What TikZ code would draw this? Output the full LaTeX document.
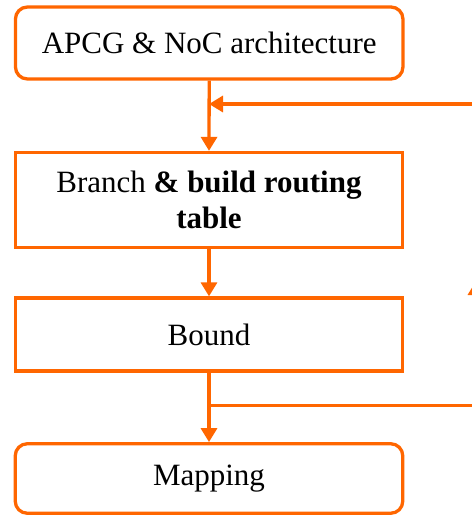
\documentclass[tikz,border=0pt]{standalone}
\usepackage{fontspec}
\setmainfont{Liberation Serif}[BoldFont={Liberation Serif Bold}]
\usetikzlibrary{arrows.meta}
\definecolor{flow}{RGB}{255,102,0}
\tikzset{
  box/.style={draw=flow, line width=3.3pt, minimum width=387.5pt, inner sep=0pt,
    font=\fontsize{31}{36}\selectfont, align=center},
  rbox/.style={box, rounded corners=12pt},
  conn/.style={draw=flow, line width=3.3pt},
  arr/.style={conn, -{Triangle[length=14pt,width=16pt]}}
}
\begin{document}
\begin{tikzpicture}[x=1pt,y=-1pt]
\useasboundingbox (0,0) rectangle (472,515);
\clip (0,0) rectangle (472,515);
\node[rbox, minimum height=72pt] (b1) at (209.2,43) {APCG \& NoC architecture};
\node[box, minimum height=95pt] (b2) at (209,200) {Branch \textbf{\& build routing}\\\textbf{table}};
\node[box, minimum height=73pt] (b3) at (209,334.5) {Bound};
\node[rbox, minimum height=69.5pt] (b4) at (209,478.5) {Mapping};
\coordinate (j1) at (209,104);
\coordinate (r1) at (476,104);
\coordinate (jB) at (209,405.5);
\coordinate (r2) at (476,405.5);
\coordinate (rm) at (476,281);
\draw[arr] (b1.south) -- (b2.north);
\draw[arr] (b2.south) -- (b3.north);
\draw[arr] (b3.south) -- (b4.north);
\draw[arr] (jB) -- (r2) -- (rm);
\draw[arr] (rm) -- (r1) -- (j1);
\end{tikzpicture}
\end{document}
